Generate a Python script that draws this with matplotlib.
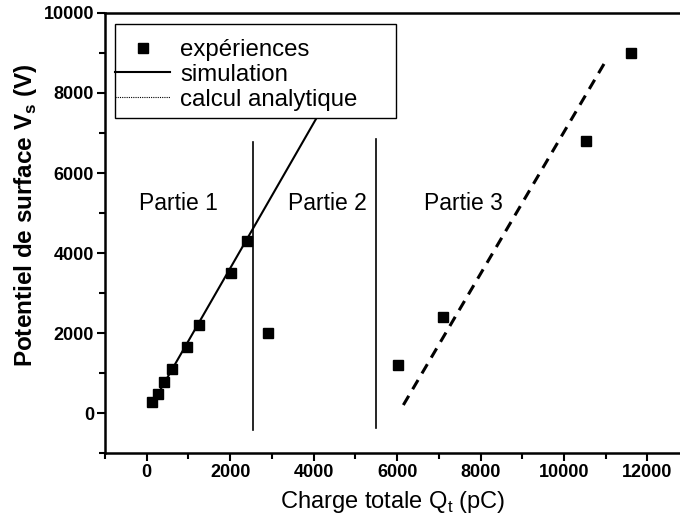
import matplotlib
matplotlib.use("Agg")
from matplotlib import pyplot as plt
from matplotlib.lines import Line2D
from matplotlib.patches import Rectangle
from matplotlib.ticker import MultipleLocator

plt.rcParams['font.family'] = ['Liberation Sans', 'DejaVu Sans']

# experimental points
list_q_exp = [130, 275, 420, 610, 970, 1260, 2020, 2400, 2910, 6020, 7100, 10525, 11600]  # pC
list_v_exp = [270, 480, 780, 1100, 1660, 2200, 3500, 4300, 2000, 1200, 2400, 6800, 9000]  # V

# simulation (part 1)
list_q_sim = [100, 4800]  # pC
list_v_sim = [170, 8700]  # V

# analytical (part 3)
list_q_ana = [6150, 11000]  # pC
list_v_ana = [200, 8800]  # V

# separations between parts
list_q_sep = [2550, 5500]  # pC
list_v_sep_low = [-420, -380]  # V
list_v_sep_high = [6780, 6860]  # V

list_part_names = ["Partie 1", "Partie 2", "Partie 3"]
list_part_x = [750, 4320, 7580]
part_y = 5250

fig = plt.figure(figsize=(6.8, 5.28), dpi=100)
ax = fig.add_axes([0.1544, 0.142, 0.8456, 0.8334])

ax.plot(list_q_sim, list_v_sim, color="black", lw=1.5)
ax.plot(list_q_ana, list_v_ana, color="black", lw=2.2, ls=(0, (3.5, 2.5)))
for i in range(len(list_q_sep)):
    ax.plot([list_q_sep[i], list_q_sep[i]], [list_v_sep_low[i], list_v_sep_high[i]],
            color="black", lw=1.2)
ax.plot(list_q_exp, list_v_exp, ls="none", marker="s", ms=7.5, color="black")

for i in range(len(list_part_names)):
    ax.text(list_part_x[i], part_y, list_part_names[i], fontsize=16.5,
            ha="center", va="center")

ax.set_xlim(-1000, 12780)
ax.set_ylim(-1000, 10000)
ax.xaxis.set_minor_locator(MultipleLocator(1000))
ax.yaxis.set_minor_locator(MultipleLocator(1000))
ax.set_xticks([0, 2000, 4000, 6000, 8000, 10000, 12000])
ax.set_yticks([0, 2000, 4000, 6000, 8000, 10000])
ax.tick_params(which="major", direction="out", length=6, width=1.5, labelsize=13, pad=2)
ax.tick_params(which="minor", direction="out", length=4, width=1.5)
for lab in ax.get_xticklabels() + ax.get_yticklabels():
    lab.set_fontweight("bold")

ax.spines["right"].set_visible(False)
for s in ["left", "bottom", "top"]:
    ax.spines[s].set_linewidth(1.8)

ax.set_xlabel("Charge totale Q$_\\mathregular{t}$ (pC)", fontsize=17, labelpad=6)
ax.set_ylabel("Potentiel de surface V$_\\mathregular{s}$ (V)", fontsize=17.5,
              fontweight="bold")
ax.yaxis.set_label_coords(-0.115, 0.54)

# legend frame drawn separately so its size matches the original box
ax.add_patch(Rectangle((0.0174, 0.761), 0.489, 0.214, transform=ax.transAxes,
                       facecolor="white", edgecolor="black", lw=1.0, zorder=4.5))

handles = [
    Line2D([], [], ls="none", marker="s", ms=7.5, color="black"),
    Line2D([], [], color="black", lw=1.5),
    Line2D([], [], color="black", lw=0.8, ls=(0, (1, 1))),
]
leg = ax.legend(handles, ["expériences", "simulation", "calcul analytique"],
                loc="upper left", bbox_to_anchor=(0.0174, 0.941), fontsize=17.3,
                frameon=False, handlelength=2.3, handletextpad=0.42,
                labelspacing=0.12, borderpad=0.0, borderaxespad=0.0)

fig.savefig("out.png", dpi=100)
